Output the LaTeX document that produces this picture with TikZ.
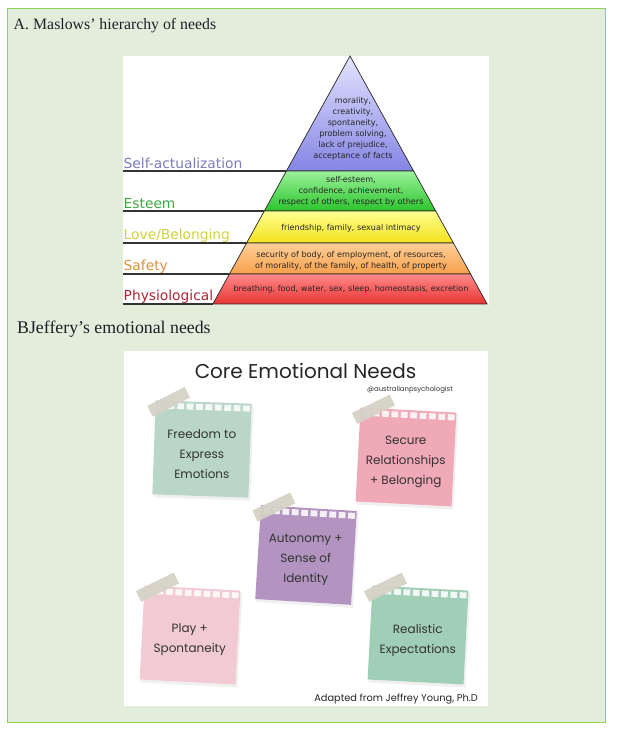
\documentclass[tikz,border=0pt]{standalone}
\usepackage{fontspec}
\setmainfont{Liberation Serif}
\newfontfamily\dejavu{DejaVu Sans}
\newfontfamily\pop{Poppins}
\usetikzlibrary{calc}
\definecolor{panelgreen}{HTML}{E2EEDB}
\definecolor{framegreen}{HTML}{92D050}
\definecolor{saTop}{HTML}{E4E4FF}
\definecolor{saBot}{HTML}{8484E4}
\definecolor{esTop}{HTML}{9AF29A}
\definecolor{esBot}{HTML}{2CC42C}
\definecolor{loTop}{HTML}{FFFF90}
\definecolor{loBot}{HTML}{F2E21C}
\definecolor{safTop}{HTML}{FFD09A}
\definecolor{safBot}{HTML}{F7A04A}
\definecolor{phTop}{HTML}{FF8A8A}
\definecolor{phBot}{HTML}{E83434}
\definecolor{lblSA}{HTML}{7C7CBC}
\definecolor{lblES}{HTML}{3EA83E}
\definecolor{lblLO}{HTML}{D2D23E}
\definecolor{lblSF}{HTML}{D9913E}
\definecolor{lblPH}{HTML}{B22434}
\definecolor{noteA}{HTML}{B9D6C9}
\definecolor{noteB}{HTML}{F0A9B6}
\definecolor{noteC}{HTML}{B394C0}
\definecolor{noteD}{HTML}{F2CAD4}
\definecolor{noteE}{HTML}{A0CEB6}
\definecolor{tapecol}{HTML}{D5D2C6}
\definecolor{inkdark}{HTML}{333333}
\definecolor{headink}{HTML}{1E1E28}
\tikzset{
  band/.style={draw=black!85,line width=0.7pt},
  hline/.style={draw=black!80,line width=1.1pt},
  bandtext/.style={font=\dejavu\fontsize{8.1}{11.1}\selectfont,align=center,inner sep=0pt,text=black!85},
  lvl/.style={font=\dejavu\fontsize{13.8}{15}\selectfont,anchor=base west,inner sep=0pt},
  notetext/.style={font=\pop\fontsize{12}{20}\selectfont,align=center,inner sep=0pt,text=inkdark},
  heading/.style={anchor=base west,inner sep=0pt,text=headink},
}
\newcommand\stickynote[6]{%
\begin{scope}[shift={(#2,#3)},rotate=#4]
 \fill[black,opacity=0.06] (-47,-45) rectangle (50,50);
 \fill[#5] (-48,-47) rectangle (48,47);
 \foreach \i in {0,...,9} \fill[white,opacity=0.85] ({-45+\i*9.4},-45) rectangle ({-45+\i*9.4+6.8},-39);
 \fill[tapecol,opacity=0.95,rotate around={29:(-35,-46)}] (-56,-52) rectangle (-14,-40);
 \node[notetext] (#1) at (0,5) {#6};
\end{scope}}
\begin{document}
\begin{tikzpicture}[x=1pt,y=-1pt]
\useasboundingbox (0,0) rectangle (619,733);
\fill[white] (0,0) rectangle (619,733);
\draw[framegreen,fill=panelgreen,line width=1pt] (7.5,8.5) rectangle (605,722);
\fill[white] (123,56) rectangle (489,305);
\fill[white] (124,351) rectangle (488,706);
% headings
\node[heading,font=\fontsize{15.8}{19}\selectfont] (hA) at (13.5,30) {A.};
\node[heading,font=\fontsize{15.8}{19}\selectfont] (hAt) at (33,30) {Maslows’ hierarchy of needs};
\node[heading,font=\fontsize{17.8}{19}\selectfont] (hB) at (17,333) {BJeffery’s emotional needs};
% pyramid
\draw[band,top color=saTop,bottom color=saBot] (350,56) -- (413.6,171) -- (286.4,171) -- cycle;
\draw[band,top color=esTop,bottom color=esBot] (286.4,171) -- (413.6,171) -- (435.7,211) -- (264.3,211) -- cycle;
\draw[band,top color=loTop,bottom color=loBot] (264.3,211) -- (435.7,211) -- (453.4,243) -- (246.6,243) -- cycle;
\draw[band,top color=safTop,bottom color=safBot] (246.6,243) -- (453.4,243) -- (470.6,274) -- (229.4,274) -- cycle;
\draw[band,top color=phTop,bottom color=phBot] (229.4,274) -- (470.6,274) -- (487.1,304) -- (212.9,304) -- cycle;
\draw[hline] (123,171) -- (286.4,171);
\draw[hline] (123,211) -- (264.3,211);
\draw[hline] (123,243) -- (246.6,243);
\draw[hline] (123,274) -- (229.4,274);
\draw[hline] (123,304) -- (212.9,304);
\node[lvl,text=lblSA] (lSA) at (123.5,168) {Self-actualization};
\node[lvl,text=lblES] (lES) at (123.5,208.5) {Esteem};
\node[lvl,text=lblLO] (lLO) at (123.5,239.5) {Love/Belonging};
\node[lvl,text=lblSF] (lSF) at (123.5,270.5) {Safety};
\node[lvl,text=lblPH] (lPH) at (123.5,300) {Physiological};
\node[bandtext] (tSA) at (353,129) {morality,\\creativity,\\spontaneity,\\problem solving,\\lack of prejudice,\\acceptance of facts};
\node[bandtext] (tES) at (351,191) {self-esteem,\\confidence, achievement,\\respect of others, respect by others};
\node[bandtext] (tLO) at (351,228) {friendship, family, sexual intimacy};
\node[bandtext] (tSF) at (351,260.5) {security of body, of employment, of resources,\\of morality, of the family, of health, of property};
\node[bandtext] (tPH) at (351,289) {breathing, food, water, sex, sleep, homeostasis, excretion};
% emotional needs
\node[font=\pop\fontsize{20}{24}\selectfont,anchor=base,inner sep=0pt,text=black!85] (core) at (305.5,378) {Core Emotional Needs};
\node[font=\pop\fontsize{6.9}{9}\selectfont,anchor=base east,inner sep=0pt,text=black!80] (handle) at (453,391) {@australianpsychologist};
\stickynote{nFree}{202}{449}{-2}{noteA}{Freedom to\\Express\\Emotions}
\stickynote{nSecure}{406}{457}{-3}{noteB}{Secure\\Relationships\\+ Belonging}
\stickynote{nAuto}{306}{555}{-3.5}{noteC}{Autonomy +\\Sense of\\Identity}
\stickynote{nPlay}{190}{635}{-3}{noteD}{Play +\\Spontaneity}
\stickynote{nReal}{418}{635}{-3}{noteE}{Realistic\\Expectations}
\node[font=\pop\fontsize{9.8}{11}\selectfont,anchor=base east,inner sep=0pt,text=black!85] (adapt) at (478,701) {Adapted from Jeffrey Young, Ph.D};
\end{tikzpicture}
\end{document}
